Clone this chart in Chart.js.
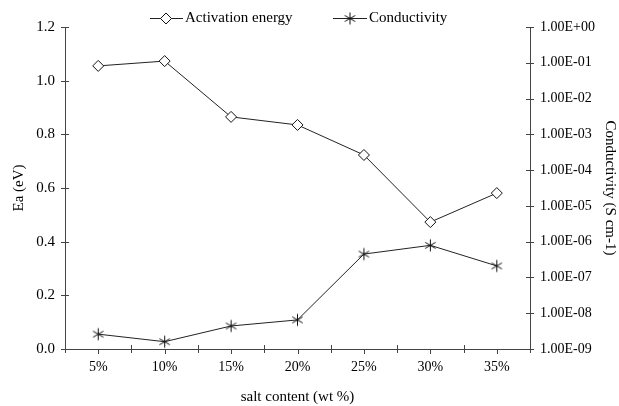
<!DOCTYPE html>
<html>
<head>
<meta charset="utf-8">
<script src="https://cdn.jsdelivr.net/npm/chart.js@4/dist/chart.umd.min.js"></script>
<style>
  html, body { margin: 0; padding: 0; background: #fff; }
  #wrap { width: 619px; height: 406px; position: relative; }
</style>
</head>
<body>
<div id="wrap"><canvas id="c" width="619" height="406"></canvas></div>
<script>
const categories = ['5%', '10%', '15%', '20%', '25%', '30%', '35%'];
const activationEnergy = [1.055, 1.073, 0.865, 0.835, 0.723, 0.473, 0.581];
const conductivity = [2.6e-9, 1.6e-9, 4.4e-9, 6.5e-9, 4.5e-7, 7.9e-7, 2.1e-7];
const eaTicks = [0, 0.2, 0.4, 0.6, 0.8, 1.0, 1.2];
const condTicks = [1e-9, 1e-8, 1e-7, 1e-6, 1e-5, 1e-4, 1e-3, 1e-2, 1e-1, 1];
const seriesNames = ['Activation energy', 'Conductivity'];

const FONT = 'Liberation Serif, Times New Roman, serif';
const LINE = '#222';
const AXIS = '#444';

function makeStar(r) {
  const s = Math.ceil(r * 2 + 3);
  const cv = document.createElement('canvas');
  cv.width = s; cv.height = s;
  const g = cv.getContext('2d');
  const c = s / 2;
  g.strokeStyle = '#111';
  g.lineWidth = 1;
  g.beginPath();
  g.moveTo(c, c - r); g.lineTo(c, c + r);
  const dx = r * Math.cos(Math.PI / 6), dy = r * Math.sin(Math.PI / 6);
  g.moveTo(c - dx, c - dy); g.lineTo(c + dx, c + dy);
  g.moveTo(c - dx, c + dy); g.lineTo(c + dx, c - dy);
  g.stroke();
  return cv;
}
const starImg = makeStar(6);

function fmtE(v) {
  const e = Math.round(Math.log10(v));
  const sign = e < 0 ? '-' : '+';
  const a = Math.abs(e);
  return '1.00E' + sign + (a < 10 ? '0' : '') + a;
}

const tickPlugin = {
  id: 'crossTicks',
  afterDraw(chart) {
    const ctx = chart.ctx;
    const x = chart.scales.x, yA = chart.scales.yA, yC = chart.scales.yC;
    const area = chart.chartArea;
    ctx.save();
    ctx.strokeStyle = AXIS;
    ctx.lineWidth = 1;
    ctx.beginPath();
    yA.ticks.forEach(t => {
      const py = Math.round(yA.getPixelForValue(t.value)) + 0.5;
      ctx.moveTo(area.left - 4, py); ctx.lineTo(area.left + 4, py);
    });
    yC.ticks.forEach(t => {
      const py = Math.round(yC.getPixelForValue(t.value)) + 0.5;
      ctx.moveTo(area.right - 4, py); ctx.lineTo(area.right + 4, py);
    });
    for (let i = 0; i <= categories.length; i++) {
      const px = Math.round(x.getPixelForValue(i - 0.5)) + 0.5;
      ctx.moveTo(px, area.bottom - 4); ctx.lineTo(px, area.bottom + 4);
    }
    for (let i = 0; i < categories.length; i++) {
      const px = Math.round(x.getPixelForValue(i)) + 0.5;
      ctx.moveTo(px, area.bottom); ctx.lineTo(px, area.bottom + 5);
    }
    ctx.stroke();

    // legend
    ctx.font = '15px ' + FONT;
    ctx.fillStyle = '#000';
    ctx.textBaseline = 'middle';
    ctx.textAlign = 'left';
    const ly = 18.5;
    const items = [
      { x0: 150, x1: 183, mx: 166, tx: 185, ds: 0 },
      { x0: 333, x1: 367, mx: 350, tx: 369, ds: 1 }
    ];
    items.forEach(it => {
      ctx.strokeStyle = LINE;
      ctx.beginPath();
      ctx.moveTo(it.x0, ly); ctx.lineTo(it.x1, ly);
      ctx.stroke();
      const ds = chart.data.datasets[it.ds];
      if (ds.pointStyle === 'rectRot') {
        ctx.fillStyle = '#fff';
        ctx.strokeStyle = '#111';
        ctx.beginPath();
        const r = ds.pointRadius;
        ctx.moveTo(it.mx, ly - r); ctx.lineTo(it.mx + r, ly); ctx.lineTo(it.mx, ly + r); ctx.lineTo(it.mx - r, ly); ctx.closePath();
        ctx.fill(); ctx.stroke();
      } else {
        Chart.helpers.drawPoint(ctx, {
          pointStyle: ds.pointStyle, radius: ds.pointRadius, borderWidth: 1, rotation: 0
        }, it.mx, ly);
      }
      ctx.fillStyle = '#000';
      ctx.fillText(seriesNames[it.ds], it.tx, ly);
    });
    ctx.restore();
  }
};

new Chart(document.getElementById('c'), {
  type: 'line',
  data: {
    labels: categories,
    datasets: [
      {
        label: seriesNames[0],
        data: activationEnergy,
        yAxisID: 'yA',
        borderColor: LINE,
        borderWidth: 1,
        pointStyle: 'rectRot',
        pointRadius: 5.5,
        pointBackgroundColor: '#fff',
        pointBorderColor: '#111',
        pointBorderWidth: 1,
        tension: 0
      },
      {
        label: seriesNames[1],
        data: conductivity,
        yAxisID: 'yC',
        borderColor: LINE,
        borderWidth: 1,
        pointStyle: starImg,
        pointRadius: 6,
        tension: 0
      }
    ]
  },
  options: {
    responsive: false,
    animation: false,
    devicePixelRatio: 1,
    layout: { padding: { top: 27, bottom: 0, left: 0, right: 0 } },
    plugins: {
      legend: { display: false },
      tooltip: { enabled: false }
    },
    scales: {
      x: {
        type: 'category',
        offset: true,
        grid: { display: false, offset: true },
        border: { display: true, color: AXIS, width: 1 },
        ticks: { color: '#000', font: { family: FONT, size: 14 }, padding: 2, maxRotation: 0 },
        title: { display: true, text: 'salt content (wt %)', color: '#000', font: { family: FONT, size: 15 }, padding: { top: 0, bottom: 0 } },
        afterFit(s) { s.height = 57; }
      },
      yA: {
        position: 'left',
        min: 0,
        max: 1.2,
        grid: { display: false },
        border: { display: true, color: AXIS, width: 1 },
        afterBuildTicks(s) { s.ticks = eaTicks.map(v => ({ value: v })); },
        ticks: {
          color: '#000', font: { family: FONT, size: 15 }, padding: 2,
          callback: v => Number(v).toFixed(1)
        },
        title: { display: true, text: 'Ea (eV)', color: '#000', font: { family: FONT, size: 15 }, padding: { top: 10, bottom: 0 } },
        afterFit(s) { s.width = 65; }
      },
      yC: {
        position: 'right',
        type: 'logarithmic',
        min: 1e-9,
        max: 1,
        grid: { display: false },
        border: { display: true, color: AXIS, width: 1 },
        afterBuildTicks(s) { s.ticks = condTicks.map(v => ({ value: v })); },
        ticks: {
          color: '#000', font: { family: FONT, size: 14 }, padding: 2,
          callback: v => fmtE(v)
        },
        title: { display: true, text: 'Conductivity (S cm-1)', color: '#000', font: { family: FONT, size: 15 }, padding: { top: 0, bottom: 0 } },
        afterFit(s) { s.width = 89; }
      }
    }
  },
  plugins: [tickPlugin]
});
</script>
</body>
</html>
